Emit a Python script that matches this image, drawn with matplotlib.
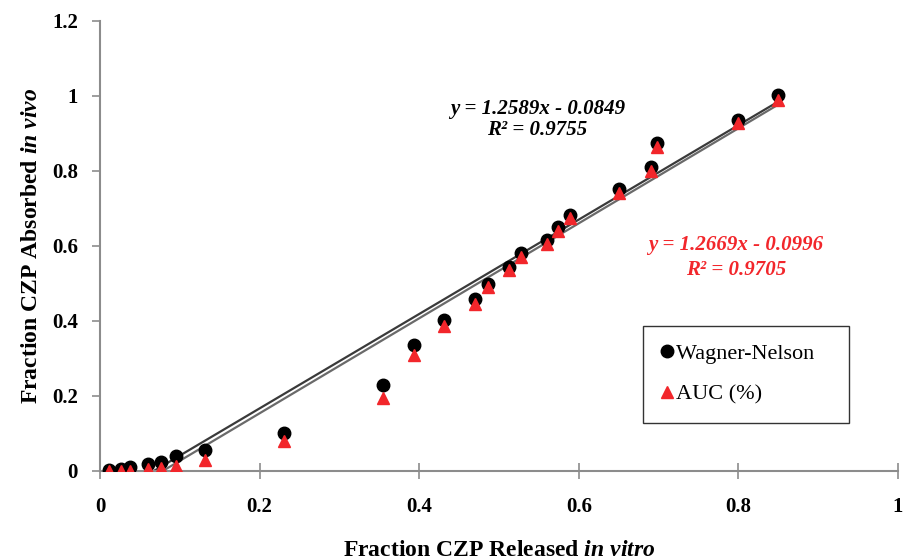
import numpy as np
import matplotlib.pyplot as plt

plt.rcParams['font.family'] = 'Liberation Serif'
plt.rcParams['mathtext.fontset'] = 'custom'
plt.rcParams['mathtext.it'] = 'Liberation Serif:italic:bold'
plt.rcParams['mathtext.rm'] = 'Liberation Serif:bold'

# Fraction released in vitro (x) and absorbed in vivo (y)
frac_released = [0.011, 0.026, 0.037, 0.060, 0.077, 0.095, 0.132, 0.230, 0.355,
                 0.394, 0.431, 0.470, 0.486, 0.513, 0.527, 0.560, 0.574, 0.589,
                 0.650, 0.690, 0.698, 0.800, 0.850]
wagner_nelson = [0.003, 0.005, 0.011, 0.019, 0.024, 0.040, 0.056, 0.101, 0.229,
                 0.336, 0.403, 0.459, 0.499, 0.544, 0.581, 0.616, 0.651, 0.683,
                 0.752, 0.811, 0.875, 0.936, 1.003]
auc_pct = [0.000, 0.000, 0.000, 0.005, 0.008, 0.012, 0.030, 0.080, 0.195,
           0.310, 0.387, 0.445, 0.490, 0.535, 0.570, 0.605, 0.640, 0.675,
           0.740, 0.800, 0.865, 0.928, 0.990]

# linear trendlines (slope, intercept, R^2)
fit_wn = (1.2589, -0.0849, 0.9755)
fit_auc = (1.2669, -0.0996, 0.9705)

red = '#f2262b'

fig = plt.figure(figsize=(9.05, 5.6), dpi=100)
ax = fig.add_axes([0.1105, 0.159, 0.8818, 0.8035])

x = np.array(frac_released)
xs = np.linspace(x.min(), x.max(), 50)
ax.plot(xs, fit_wn[0] * xs + fit_wn[1], color='#3a3a3a', lw=1.6, zorder=2)
ax.plot(xs, fit_auc[0] * xs + fit_auc[1], color='#6a6a6a', lw=1.6, zorder=2)

ax.plot(frac_released, wagner_nelson, 'o', color='black', ms=9,
        label='Wagner-Nelson', zorder=3)
ax.plot(frac_released, auc_pct, '^', color=red, ms=9,
        label='AUC (%)', zorder=4)

eq_font = dict(fontsize=15, fontweight='bold', fontstyle='italic',
               ha='center', va='center')
ax.text(0.548, 0.965, 'y = 1.2589x - 0.0849', **eq_font)
ax.text(0.548, 0.910, 'R² = 0.9755', **eq_font)
ax.text(0.797, 0.603, 'y = 1.2669x - 0.0996', color=red, **eq_font)
ax.text(0.797, 0.536, 'R² = 0.9705', color=red, **eq_font)

ax.set_xlim(0, 1)
ax.set_ylim(0, 1.2)
ax.set_xticks([0, 0.2, 0.4, 0.6, 0.8, 1])
ax.set_xticklabels(['0', '0.2', '0.4', '0.6', '0.8', '1'])
ax.set_yticks([0, 0.2, 0.4, 0.6, 0.8, 1, 1.2])
ax.set_yticklabels(['0', '0.2', '0.4', '0.6', '0.8', '1', '1.2'])

for s in ['top', 'right']:
    ax.spines[s].set_visible(False)
for s in ['left', 'bottom']:
    ax.spines[s].set_color('#8c8c8c')
    ax.spines[s].set_linewidth(1.5)

ax.tick_params(axis='x', direction='inout', length=12, width=1.2, color='#8c8c8c',
               pad=13, labelsize=15)
ax.tick_params(axis='y', direction='out', length=6, width=1.2, color='#8c8c8c',
               pad=10, labelsize=15)
for lab in ax.get_xticklabels() + ax.get_yticklabels():
    lab.set_fontweight('bold')

ax.set_xlabel(r'Fraction CZP Released $in\ vitro$', fontsize=17,
              fontweight='bold', labelpad=16)
ax.set_ylabel(r'Fraction CZP Absorbed $in\ vivo$', fontsize=17,
              fontweight='bold', labelpad=7)

leg = ax.legend(loc='center left', bbox_to_anchor=(0.68, 0.215), fontsize=16,
                frameon=True, fancybox=False, edgecolor='black', handlelength=0.6,
                handletextpad=0.1, labelspacing=0.9, borderpad=0.8,
                borderaxespad=0)
leg.get_frame().set_linewidth(1.0)
for t in leg.get_texts():
    t.set_text(t.get_text() + '   ')

fig.savefig('out.png', dpi=100)
